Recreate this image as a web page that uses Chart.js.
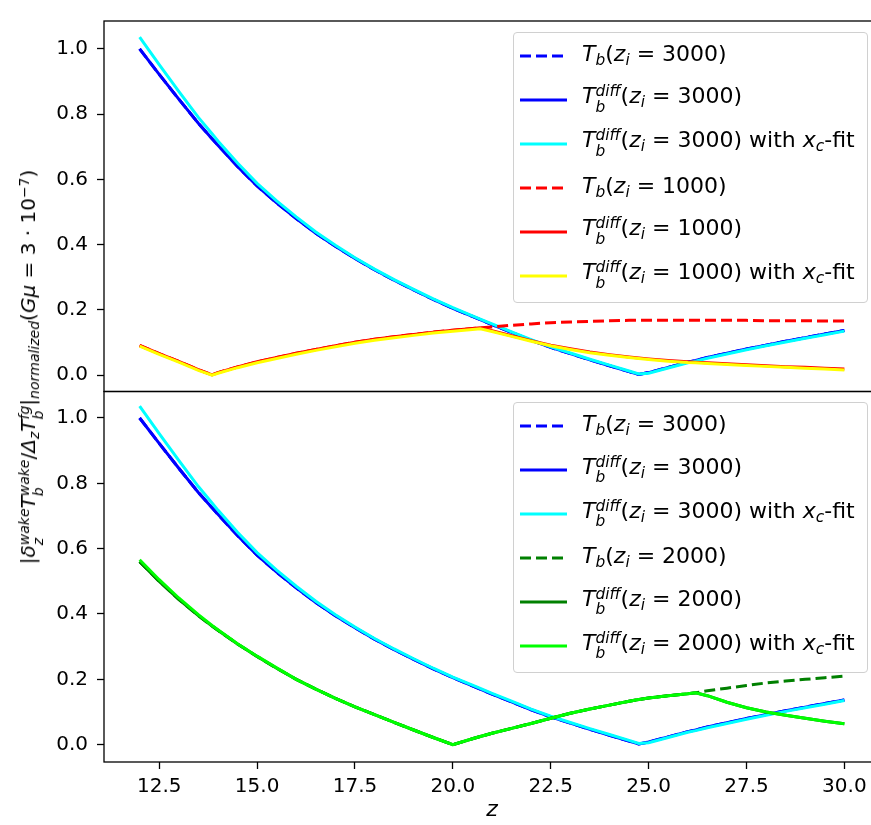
<!DOCTYPE html>
<html>
<head>
<meta charset="utf-8">
<script src="https://cdn.jsdelivr.net/npm/chart.js@4.4.1/dist/chart.umd.min.js"></script>
<style>
    html, body { margin: 0; padding: 0; background: #fff; overflow: hidden; }
    #wrap { position: relative; width: 880px; height: 825px; font-family: 'DejaVu Sans', sans-serif; color: #000; }
    #chart { position: absolute; left: 0; top: 0; }
    .legend { position: absolute; left: 513px; width: 353px; background: rgba(255, 255, 255, 0.8);
        border: 1px solid #d0d0d0; border-radius: 4px; padding: 1px 0 4px 0; font-size: 22px; }
    .legend .row { height: 44px; display: flex; align-items: center; white-space: nowrap; }
    .legend svg { margin-left: 6px; margin-right: 15px; flex: none; }
    .legend .txt { line-height: 1; }
    .sb { font-size: 0.7em; vertical-align: -0.25em; font-style: italic; }
    .sp { font-size: 0.7em; vertical-align: 0.45em; font-style: italic; }
    .ss { display: inline-flex; flex-direction: column; font-size: 0.7em; line-height: 1; vertical-align: 0.45em; font-style: italic; }
    #ylabel { position: absolute; left: 31px; top: 367px; transform: translate(-50%, -50%) rotate(-90deg);
        white-space: nowrap; font-size: 20px; line-height: 1; }
</style>
</head>
<body>
<div id="wrap">
    <canvas id="chart" width="880" height="825"></canvas>
    <div id="ylabel">|<i>δ</i><span class="ss"><span>wake</span><span>z</span></span><i>T</i><span class="ss"><span>wake</span><span>b</span></span>/<i>Δ</i><span class="sb">z</span><i>T</i><span class="ss"><span>fg</span><span>b</span></span>|<span class="sb">normalized</span>(<i>Gμ</i> = 3 · 10<span class="sp" style="font-style:normal">−7</span>)</div>
    <div class="legend" id="legend-yTop"></div>
    <div class="legend" id="legend-yBottom"></div>
</div>
<script>
// redshift samples shared by every curve
const zValues = [12, 12.5, 13, 13.5, 13.85, 14, 14.5, 15, 15.5, 16, 16.5, 17, 17.5, 18, 18.5, 19, 19.5, 20, 20.5, 20.7,
    21, 21.5, 22, 22.5, 23, 23.5, 24, 24.5, 24.75, 25, 25.5, 26, 26.2, 26.5, 27, 27.5, 28, 28.5, 29, 29.5, 30]

// z_i = 3000 (both panels)
const tb3000 = [1.000, 0.922, 0.846, 0.772, 0.725, 0.705, 0.640, 0.580, 0.528, 0.480, 0.435, 0.395, 0.358, 0.323, 0.291, 0.261, 0.232, 0.205, 0.180, 0.170,
    0.155, 0.131, 0.107, 0.085, 0.066, 0.047, 0.029, 0.011, 0.002, 0.008, 0.024, 0.040, 0.045, 0.054, 0.067, 0.080, 0.092, 0.104, 0.115, 0.126, 0.137]
const tbDiff3000 = [1.000, 0.922, 0.846, 0.772, 0.725, 0.705, 0.640, 0.580, 0.528, 0.480, 0.435, 0.395, 0.358, 0.323, 0.291, 0.261, 0.232, 0.205, 0.180, 0.170,
    0.155, 0.131, 0.107, 0.085, 0.066, 0.047, 0.029, 0.011, 0.002, 0.008, 0.024, 0.040, 0.045, 0.054, 0.067, 0.080, 0.092, 0.104, 0.115, 0.126, 0.137]
const tbFit3000 = [1.036, 0.952, 0.870, 0.790, 0.740, 0.718, 0.650, 0.588, 0.534, 0.485, 0.439, 0.398, 0.360, 0.325, 0.293, 0.263, 0.234, 0.207, 0.182, 0.172,
    0.157, 0.133, 0.109, 0.087, 0.068, 0.049, 0.031, 0.013, 0.004, 0.006, 0.022, 0.038, 0.043, 0.052, 0.065, 0.078, 0.090, 0.102, 0.113, 0.124, 0.135]

// z_i = 1000 (top panel)
const tb1000 = [0.091, 0.066, 0.042, 0.017, 0.001, 0.008, 0.025, 0.041, 0.054, 0.067, 0.079, 0.090, 0.101, 0.110, 0.118, 0.125, 0.132, 0.138, 0.143, 0.145,
    0.148, 0.153, 0.157, 0.161, 0.163, 0.165, 0.167, 0.168, 0.168, 0.168, 0.168, 0.168, 0.168, 0.168, 0.168, 0.168, 0.167, 0.167, 0.167, 0.166, 0.166]
const tbDiff1000 = [0.091, 0.066, 0.042, 0.017, 0.001, 0.008, 0.025, 0.041, 0.054, 0.067, 0.079, 0.090, 0.101, 0.110, 0.118, 0.125, 0.132, 0.138, 0.143, 0.145,
    0.136, 0.121, 0.106, 0.092, 0.081, 0.071, 0.063, 0.056, 0.053, 0.050, 0.045, 0.041, 0.040, 0.038, 0.035, 0.032, 0.029, 0.026, 0.024, 0.021, 0.019]
const tbFit1000 = [0.089, 0.064, 0.040, 0.015, 0.000, 0.006, 0.023, 0.038, 0.051, 0.064, 0.076, 0.087, 0.098, 0.107, 0.115, 0.122, 0.129, 0.135, 0.140, 0.142,
    0.134, 0.119, 0.104, 0.090, 0.079, 0.069, 0.061, 0.054, 0.051, 0.048, 0.043, 0.039, 0.038, 0.036, 0.033, 0.030, 0.027, 0.024, 0.021, 0.019, 0.016]

// z_i = 2000 (bottom panel)
const tb2000 = [0.560, 0.500, 0.445, 0.395, 0.363, 0.350, 0.308, 0.270, 0.234, 0.200, 0.170, 0.142, 0.116, 0.092, 0.068, 0.045, 0.022, 0.000, 0.018, 0.025,
    0.035, 0.050, 0.065, 0.081, 0.096, 0.109, 0.121, 0.133, 0.138, 0.143, 0.150, 0.156, 0.159, 0.165, 0.173, 0.181, 0.189, 0.195, 0.200, 0.205, 0.210]
const tbDiff2000 = [0.560, 0.500, 0.445, 0.395, 0.363, 0.350, 0.308, 0.270, 0.234, 0.200, 0.170, 0.142, 0.116, 0.092, 0.068, 0.045, 0.022, 0.000, 0.018, 0.025,
    0.035, 0.050, 0.065, 0.081, 0.096, 0.109, 0.121, 0.133, 0.138, 0.143, 0.150, 0.156, 0.159, 0.150, 0.130, 0.113, 0.100, 0.090, 0.081, 0.072, 0.064]
const tbFit2000 = [0.566, 0.505, 0.449, 0.398, 0.365, 0.352, 0.309, 0.271, 0.235, 0.200, 0.170, 0.142, 0.116, 0.092, 0.068, 0.045, 0.022, 0.000, 0.018, 0.025,
    0.035, 0.050, 0.065, 0.081, 0.096, 0.109, 0.121, 0.133, 0.138, 0.143, 0.150, 0.156, 0.159, 0.150, 0.130, 0.113, 0.100, 0.090, 0.081, 0.072, 0.064]

const xTicks = [12.5, 15, 17.5, 20, 22.5, 25, 27.5, 30]
const yTicks = [0, 0.2, 0.4, 0.6, 0.8, 1.0]

// legend text (mathtext written as markup)
const tbLabel = zi => `<i>T</i><span class="sb">b</span>(<i>z</i><span class="sb">i</span> = ${zi})`
const tbDiffLabel = zi => `<i>T</i><span class="ss"><span>diff</span><span>b</span></span>(<i>z</i><span class="sb">i</span> = ${zi})`
const tbFitLabel = zi => tbDiffLabel(zi) + ` with <i>x</i><span class="sb">c</span>-fit`

function makeSet(values, color, dashed, axis, html) {
    return {
        label: html.replace(/<[^>]+>/g, ''),
        legendHtml: html,
        data: values.map((v, i) => ({ x: zValues[i], y: v })),
        borderColor: color,
        backgroundColor: color,
        borderWidth: 3,
        borderDash: dashed ? [11, 5] : [],
        pointRadius: 0,
        tension: 0,
        fill: false,
        yAxisID: axis,
    }
}

const datasets = [
    makeSet(tb3000, '#0000ff', true, 'yTop', tbLabel(3000)),
    makeSet(tbDiff3000, '#0000ff', false, 'yTop', tbDiffLabel(3000)),
    makeSet(tbFit3000, '#00ffff', false, 'yTop', tbFitLabel(3000)),
    makeSet(tb1000, '#ff0000', true, 'yTop', tbLabel(1000)),
    makeSet(tbDiff1000, '#ff0000', false, 'yTop', tbDiffLabel(1000)),
    makeSet(tbFit1000, '#ffff00', false, 'yTop', tbFitLabel(1000)),
    makeSet(tb3000, '#0000ff', true, 'yBottom', tbLabel(3000)),
    makeSet(tbDiff3000, '#0000ff', false, 'yBottom', tbDiffLabel(3000)),
    makeSet(tbFit3000, '#00ffff', false, 'yBottom', tbFitLabel(3000)),
    makeSet(tb2000, '#008000', true, 'yBottom', tbLabel(2000)),
    makeSet(tbDiff2000, '#008000', false, 'yBottom', tbDiffLabel(2000)),
    makeSet(tbFit2000, '#00ff00', false, 'yBottom', tbFitLabel(2000)),
]
// later curves are painted on top, like the plotting order of the original
datasets.forEach((d, i) => { d.order = datasets.length - i })

function panelAxis(min, max) {
    return {
        type: 'linear',
        position: 'left',
        stack: 'panels',
        stackWeight: 1,
        min: min,
        max: max,
        afterBuildTicks: s => { s.ticks = yTicks.map(v => ({ value: v })) },
        afterFit: s => { s.width = 104 },
        ticks: { callback: v => v.toFixed(1), padding: 9, font: { size: 20 } },
        grid: { drawOnChartArea: false, tickLength: 7, tickColor: '#000', tickWidth: 1.3 },
        border: { display: false },
    }
}

// black box round each panel, drawn over the curves
const framePlugin = {
    id: 'frames',
    afterDatasetsDraw(chart) {
        const { ctx, chartArea } = chart
        ctx.save()
        ctx.strokeStyle = '#000'
        ctx.lineWidth = 1.3
        ;['yTop', 'yBottom'].forEach(id => {
            const s = chart.scales[id]
            ctx.strokeRect(chartArea.left, s.top, chartArea.right - chartArea.left, s.bottom - s.top)
        })
        ctx.restore()
    }
}

function legendHandle(d) {
    const dash = d.borderDash.length ? ` stroke-dasharray="${d.borderDash.join(' ')}"` : ''
    return `<svg width="47" height="8"><line x1="0" y1="4" x2="47" y2="4" stroke="${d.borderColor}" stroke-width="${d.borderWidth}"${dash}/></svg>`
}

const htmlLegend = {
    id: 'htmlLegend',
    afterUpdate(chart) {
        ['yTop', 'yBottom'].forEach(id => {
            const box = document.getElementById('legend-' + id)
            box.style.top = (chart.scales[id].top + 10.5) + 'px'
            box.innerHTML = chart.data.datasets
                .filter(d => d.yAxisID === id)
                .map(d => `<div class="row">${legendHandle(d)}<span class="txt">${d.legendHtml}</span></div>`)
                .join('')
        })
    }
}

Chart.defaults.font.family = "'DejaVu Sans', sans-serif"
Chart.defaults.color = '#000'

new Chart(document.getElementById('chart').getContext('2d'), {
    type: 'line',
    data: { datasets },
    options: {
        responsive: false,
        animation: false,
        devicePixelRatio: 1,
        layout: { padding: { top: 10, left: 0, right: 0, bottom: 0 } },
        plugins: { legend: { display: false }, tooltip: { enabled: false } },
        scales: {
            x: {
                type: 'linear',
                min: 11.09,
                max: 30.91,
                afterBuildTicks: s => { s.ticks = xTicks.map(v => ({ value: v })) },
                afterFit: s => { s.height = 63 },
                ticks: { callback: v => v.toFixed(1), maxRotation: 0, autoSkip: false, padding: 6, font: { size: 20 } },
                grid: { drawOnChartArea: false, tickLength: 7, tickColor: '#000', tickWidth: 1.3 },
                border: { display: false },
                title: { display: true, text: 'z', font: { size: 22, style: 'italic' }, padding: { top: 0, bottom: 2 } },
            },
            // stacked left axes are laid out last-first, so the lower panel is listed first
            yBottom: panelAxis(-0.053, 1.081),
            yTop: panelAxis(-0.05, 1.0855),
        },
    },
    plugins: [framePlugin, htmlLegend],
})
</script>
</body>
</html>
